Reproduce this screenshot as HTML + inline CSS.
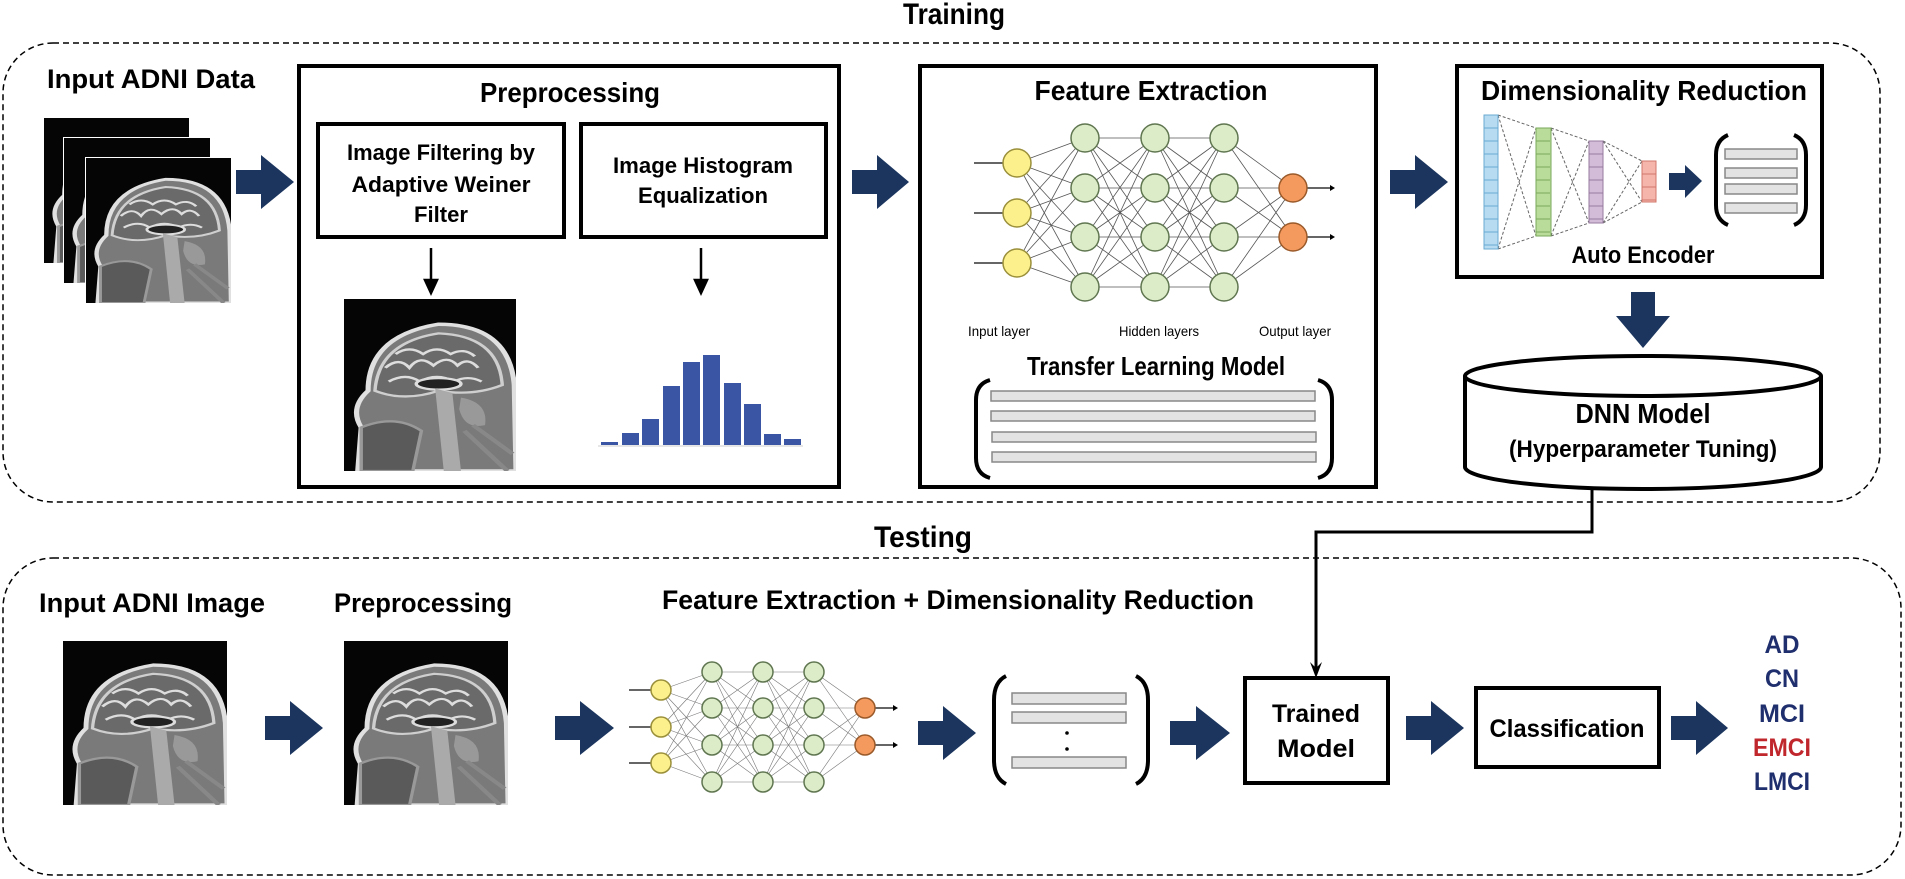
<!DOCTYPE html>
<html><head><meta charset="utf-8"><style>
html,body{margin:0;padding:0;background:#fff;}
svg{display:block;}
text{font-family:"Liberation Sans",sans-serif;font-weight:bold;fill:#000;}
</style></head><body>
<svg id="s" width="1905" height="879" viewBox="0 0 1905 879" xmlns="http://www.w3.org/2000/svg">
<defs>
<symbol id="brain" viewBox="0 0 100 150" preserveAspectRatio="none">
<rect width="100" height="150" fill="#050505"/>
<path d="M8,150 L10,112 Q3,95 14,80 Q14,32 55,22 Q96,22 99,75 L100,150 Z" fill="#7a7a7a" stroke="#e0e0e0" stroke-width="3"/>
<path d="M18,80 Q20,38 55,30 Q90,32 92,75 Q75,85 55,80 Q35,90 18,80 Z" fill="#6a6a6a" stroke="#cfcfcf" stroke-width="2"/>
<path d="M24,60 q8,-10 14,0 q6,-12 14,-2 q8,-10 14,0 q6,-8 12,2 M26,72 q10,-8 18,0 q10,-8 20,0 q8,-6 16,0 M30,48 q8,-8 16,0 q8,-8 16,0 q8,-6 14,2" fill="none" stroke="#ddd" stroke-width="2"/>
<ellipse cx="55" cy="74" rx="13" ry="5" fill="#222" stroke="#ddd" stroke-width="2"/>
<path d="M53,78 L58,150 L68,150 L63,82 Z" fill="#aaa"/>
<path d="M68,86 Q84,90 82,110 Q70,114 67,96 Z" fill="#999"/>
<path d="M10,112 Q30,100 45,115 L40,150 L10,150 Z" fill="#5a5a5a" stroke="#999" stroke-width="2"/>
<path d="M70,115 L95,150 M75,110 L98,135" stroke="#888" stroke-width="3"/>
</symbol>
</defs>

<!-- Training -->
<text x="954" y="24" font-size="30" text-anchor="middle" textLength="102" lengthAdjust="spacingAndGlyphs">Training</text>
<rect x="3" y="43" width="1877" height="459" rx="50" fill="none" stroke="#000" stroke-width="1.5" stroke-dasharray="6,4"/>

<text x="47" y="88" font-size="27" textLength="208" lengthAdjust="spacingAndGlyphs">Input ADNI Data</text>
<use href="#brain" x="44" y="118" width="145" height="145"/>
<rect x="64" y="138" width="146" height="145" fill="#050505" stroke="#fff" stroke-width="2"/>
<use href="#brain" x="64" y="138" width="146" height="145"/>
<rect x="86" y="158" width="145" height="145" fill="#050505" stroke="#fff" stroke-width="2"/>
<use href="#brain" x="86" y="158" width="145" height="145"/>

<g fill="#1b355e">
<path d="M236,170 H261 V155 L294,182 L261,209 V194 H236 Z"/>
<path d="M852,170 H877 V155 L909,182 L877,209 V194 H852 Z"/>
<path d="M1390,170 H1415 V155 L1448,182 L1415,209 V194 H1390 Z"/>
<path d="M1669,173 H1685 V165 L1702,181 L1685,198 V190 H1669 Z"/>
<path d="M1631,292 H1655 V316 H1670 L1643,348 L1616,316 H1631 Z"/>
</g>

<!-- Preprocessing -->
<rect x="299" y="66" width="540" height="421" fill="none" stroke="#000" stroke-width="4"/>
<text x="570" y="102" font-size="28" text-anchor="middle" textLength="180" lengthAdjust="spacingAndGlyphs">Preprocessing</text>
<rect x="318" y="124" width="246" height="113" fill="none" stroke="#000" stroke-width="4"/>
<text x="441" y="160" font-size="22" text-anchor="middle" textLength="188" lengthAdjust="spacingAndGlyphs">Image Filtering by</text>
<text x="441" y="192" font-size="22" text-anchor="middle" textLength="179" lengthAdjust="spacingAndGlyphs">Adaptive Weiner</text>
<text x="441" y="222" font-size="22" text-anchor="middle" textLength="54" lengthAdjust="spacingAndGlyphs">Filter</text>
<rect x="581" y="124" width="245" height="113" fill="none" stroke="#000" stroke-width="4"/>
<text x="703" y="173" font-size="22" text-anchor="middle" textLength="180" lengthAdjust="spacingAndGlyphs">Image Histogram</text>
<text x="703" y="203" font-size="22" text-anchor="middle" textLength="130" lengthAdjust="spacingAndGlyphs">Equalization</text>
<g stroke="#000" stroke-width="2.5" fill="#000">
<line x1="431" y1="248" x2="431" y2="282"/><path d="M425,280 L437,280 L431,293 Z"/>
<line x1="701" y1="248" x2="701" y2="282"/><path d="M695,280 L707,280 L701,293 Z"/>
</g>
<use href="#brain" x="344" y="299" width="172" height="172"/>
<g fill="#3b55a5">
<rect x="601" y="442" width="17" height="3"/><rect x="622" y="433" width="17" height="12"/>
<rect x="642" y="419" width="17" height="26"/><rect x="663" y="386" width="17" height="59"/>
<rect x="683" y="362" width="17" height="83"/><rect x="703" y="355" width="17" height="90"/>
<rect x="724" y="383" width="17" height="62"/><rect x="744" y="404" width="17" height="41"/>
<rect x="764" y="434" width="17" height="11"/><rect x="784" y="439" width="17" height="6"/>
</g>
<line x1="598" y1="446" x2="803" y2="446" stroke="#ccc" stroke-width="1"/>

<!-- Feature Extraction -->
<rect x="920" y="66" width="456" height="421" fill="none" stroke="#000" stroke-width="4"/>
<text x="1151" y="100" font-size="28" text-anchor="middle" textLength="233" lengthAdjust="spacingAndGlyphs">Feature Extraction</text>
<g id="mesh1" stroke="#555" stroke-width="0.8" fill="none"></g>
<g id="nodes1"></g>
<text x="999" y="336" font-size="14" text-anchor="middle" style="font-weight:normal" textLength="62" lengthAdjust="spacingAndGlyphs">Input layer</text>
<text x="1159" y="336" font-size="14" text-anchor="middle" style="font-weight:normal" textLength="80" lengthAdjust="spacingAndGlyphs">Hidden layers</text>
<text x="1295" y="336" font-size="14" text-anchor="middle" style="font-weight:normal" textLength="72" lengthAdjust="spacingAndGlyphs">Output layer</text>
<text x="1156" y="375" font-size="26" text-anchor="middle" textLength="258" lengthAdjust="spacingAndGlyphs">Transfer Learning Model</text>
<g fill="none" stroke="#000" stroke-width="4">
<path d="M990,380 Q976,384 976,400 V458 Q976,474 990,478"/>
<path d="M1318,380 Q1332,384 1332,400 V458 Q1332,474 1318,478"/>
</g>
<g fill="#e3e3e3" stroke="#888" stroke-width="1.5">
<rect x="991" y="391" width="324" height="10"/><rect x="991" y="411" width="324" height="10"/>
<rect x="992" y="432" width="324" height="10"/><rect x="992" y="452" width="324" height="10"/>
</g>

<!-- Dimensionality Reduction -->
<rect x="1457" y="66" width="365" height="211" fill="none" stroke="#000" stroke-width="4"/>
<text x="1644" y="100" font-size="28" text-anchor="middle" textLength="326" lengthAdjust="spacingAndGlyphs">Dimensionality Reduction</text>
<g stroke="#666" stroke-width="1" stroke-dasharray="3,2" fill="none">
<path d="M1498,115 L1536,128 M1498,249 L1536,236 M1498,115 L1536,236 M1498,249 L1536,128"/>
<path d="M1551,128 L1589,141 M1551,236 L1589,223 M1551,128 L1589,223 M1551,236 L1589,141"/>
<path d="M1603,141 L1642,161 M1603,223 L1642,202 M1603,141 L1642,202 M1603,223 L1642,161"/>
</g>
<g stroke-width="1">
<rect x="1484" y="115" width="14" height="134" fill="#b7dcf2" stroke="#6aaad0"/>
<rect x="1536" y="128" width="15" height="108" fill="#b9dc9a" stroke="#7aa95b"/>
<rect x="1589" y="141" width="14" height="82" fill="#d3bcd8" stroke="#977aa0"/>
<rect x="1642" y="161" width="14" height="41" fill="#f6b5ab" stroke="#d0776b"/>
</g>
<g id="cells" stroke-width="1"></g>
<g fill="none" stroke="#000" stroke-width="4">
<path d="M1728,135 Q1716,140 1716,155 V205 Q1716,220 1728,225"/>
<path d="M1794,135 Q1806,140 1806,155 V205 Q1806,220 1794,225"/>
</g>
<g fill="#e3e3e3" stroke="#888" stroke-width="1.5">
<rect x="1725" y="149" width="72" height="10"/><rect x="1725" y="168" width="72" height="10"/>
<rect x="1725" y="184" width="72" height="10"/><rect x="1725" y="203" width="72" height="10"/>
</g>
<text x="1643" y="263" font-size="24" text-anchor="middle" textLength="143" lengthAdjust="spacingAndGlyphs">Auto Encoder</text>

<!-- DNN cylinder -->
<path d="M1465,376 V467 A178,22 0 0 0 1821,467 V376" fill="#fff" stroke="#000" stroke-width="4"/>
<ellipse cx="1643" cy="376" rx="178" ry="20" fill="#fff" stroke="#000" stroke-width="4"/>
<text x="1643" y="423" font-size="28" text-anchor="middle" textLength="135" lengthAdjust="spacingAndGlyphs">DNN Model</text>
<text x="1643" y="457" font-size="24" text-anchor="middle" textLength="268" lengthAdjust="spacingAndGlyphs">(Hyperparameter Tuning)</text>

<!-- connector -->
<path d="M1592,489 V532 H1316 V668" fill="none" stroke="#000" stroke-width="3"/>
<path d="M1310,662 L1316,678 L1322,662 L1316,668 Z" fill="#000"/>

<!-- Testing -->
<text x="923" y="547" font-size="30" text-anchor="middle" textLength="98" lengthAdjust="spacingAndGlyphs">Testing</text>
<rect x="3" y="558" width="1898" height="317" rx="50" fill="none" stroke="#000" stroke-width="1.5" stroke-dasharray="6,4"/>
<text x="152" y="612" font-size="27" text-anchor="middle" textLength="226" lengthAdjust="spacingAndGlyphs">Input ADNI Image</text>
<text x="423" y="612" font-size="27" text-anchor="middle" textLength="178" lengthAdjust="spacingAndGlyphs">Preprocessing</text>
<text x="958" y="609" font-size="27" text-anchor="middle" textLength="592" lengthAdjust="spacingAndGlyphs">Feature Extraction + Dimensionality Reduction</text>
<use href="#brain" x="63" y="641" width="164" height="164"/>
<use href="#brain" x="344" y="641" width="164" height="164"/>
<g fill="#1b355e">
<path d="M265,716 H290 V701 L323,728 L290,755 V740 H265 Z"/>
<path d="M555,716 H580 V701 L614,728 L580,755 V740 H555 Z"/>
<path d="M918,721 H943 V706 L976,733 L943,760 V745 H918 Z"/>
<path d="M1170,721 H1196 V706 L1230,733 L1196,760 V745 H1170 Z"/>
<path d="M1406,716 H1431 V701 L1464,728 L1431,755 V740 H1406 Z"/>
<path d="M1671,716 H1696 V701 L1728,728 L1696,755 V740 H1671 Z"/>
</g>
<g id="mesh2" stroke="#777" stroke-width="0.6" fill="none"></g>
<g id="nodes2"></g>
<g fill="none" stroke="#000" stroke-width="4">
<path d="M1006,676 Q994,682 994,700 V760 Q994,778 1006,784"/>
<path d="M1136,676 Q1148,682 1148,700 V760 Q1148,778 1136,784"/>
</g>
<g fill="#e3e3e3" stroke="#888" stroke-width="1.5">
<rect x="1012" y="693" width="114" height="11"/><rect x="1012" y="712" width="114" height="11"/>
<rect x="1012" y="757" width="114" height="11"/>
</g>
<circle cx="1067" cy="733" r="1.8" fill="#000"/><circle cx="1067" cy="749" r="1.8" fill="#000"/>
<rect x="1245" y="678" width="143" height="105" fill="none" stroke="#000" stroke-width="4"/>
<text x="1316" y="722" font-size="25" text-anchor="middle" textLength="88" lengthAdjust="spacingAndGlyphs">Trained</text>
<text x="1316" y="757" font-size="25" text-anchor="middle" textLength="78" lengthAdjust="spacingAndGlyphs">Model</text>
<rect x="1476" y="688" width="183" height="79" fill="none" stroke="#000" stroke-width="4"/>
<text x="1567" y="737" font-size="25" text-anchor="middle" textLength="155" lengthAdjust="spacingAndGlyphs">Classification</text>
<g font-size="25" text-anchor="middle">
<text x="1782" y="653" style="fill:#1f2f6e" textLength="35" lengthAdjust="spacingAndGlyphs">AD</text>
<text x="1782" y="687" style="fill:#1f2f6e" textLength="34" lengthAdjust="spacingAndGlyphs">CN</text>
<text x="1782" y="722" style="fill:#1f2f6e" textLength="46" lengthAdjust="spacingAndGlyphs">MCI</text>
<text x="1782" y="756" style="fill:#c0272d" textLength="58" lengthAdjust="spacingAndGlyphs">EMCI</text>
<text x="1782" y="790" style="fill:#1f2f6e" textLength="56" lengthAdjust="spacingAndGlyphs">LMCI</text>
</g>
</svg>
<script>
var NS="http://www.w3.org/2000/svg";
function el(p,t,a){var e=document.createElementNS(NS,t);for(var k in a)e.setAttribute(k,a[k]);p.appendChild(e);return e;}
function net(meshId,nodeId,layers,r,arrIn,arrOut){
 var m=document.getElementById(meshId),n=document.getElementById(nodeId);
 for(var l=0;l<layers.length-1;l++){var A=layers[l],B=layers[l+1];
  A.ys.forEach(function(a){B.ys.forEach(function(b){el(m,'line',{x1:A.x,y1:a,x2:B.x,y2:b});});});}
 layers[0].ys.forEach(function(y){el(m,'line',{x1:arrIn,y1:y,x2:layers[0].x-r,y2:y,'stroke-width':1.5,stroke:'#333'});});
 var L=layers[layers.length-1];
 L.ys.forEach(function(y){el(m,'line',{x1:L.x+r,y1:y,x2:arrOut,y2:y,'stroke-width':1.5,stroke:'#333'});
   el(n,'path',{d:'M'+(arrOut)+','+(y-3)+' L'+(arrOut+5)+','+y+' L'+arrOut+','+(y+3)+'Z',fill:'#000'});});
 layers.forEach(function(Ly){Ly.ys.forEach(function(y){el(n,'circle',{cx:Ly.x,cy:y,r:r,fill:Ly.f,stroke:Ly.s,'stroke-width':1.5});});});
}
var Y='#fbf08c',Ys='#9a8f3a',G='#dcebc8',Gs='#5f7650',O='#f59a5e',Os='#9a5a2a';
net('mesh1','nodes1',[{x:1017,ys:[163,213,263],f:Y,s:Ys},{x:1085,ys:[138,188,237,287],f:G,s:Gs},{x:1155,ys:[138,188,237,287],f:G,s:Gs},{x:1224,ys:[138,188,237,287],f:G,s:Gs},{x:1293,ys:[188,237],f:O,s:Os}],14,974,1330);
net('mesh2','nodes2',[{x:661,ys:[690,727,763],f:Y,s:Ys},{x:712,ys:[672,708,745,782],f:G,s:Gs},{x:763,ys:[672,708,745,782],f:G,s:Gs},{x:814,ys:[672,708,745,782],f:G,s:Gs},{x:865,ys:[708,745],f:O,s:Os}],10,629,893);
var c=document.getElementById('cells');
[[1484,115,249,'#6aaad0'],[1536,128,236,'#7aa95b'],[1589,141,223,'#977aa0'],[1642,161,202,'#d0776b']].forEach(function(q){
 for(var y=q[1]+13;y<q[2];y+=13)el(c,'line',{x1:q[0],y1:y,x2:q[0]+14,y2:y,stroke:q[3]});});
</script>
</body></html>
